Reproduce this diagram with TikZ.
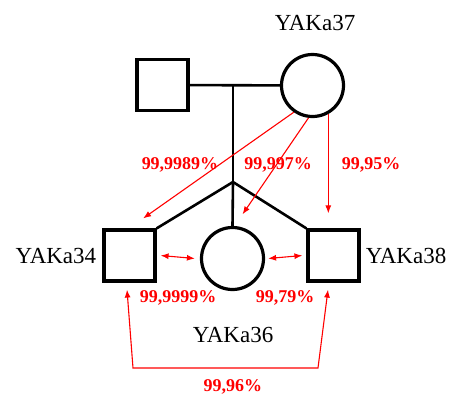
\documentclass[tikz,border=0pt]{standalone}
\usepackage{fontspec}
\setmainfont{Liberation Serif}
\usetikzlibrary{arrows.meta, positioning}
\definecolor{relRed}{RGB}{255,0,0}

\begin{document}
\begin{tikzpicture}[x=1pt, y=-1pt,
    male/.style={rectangle, draw, line width=3.2pt, minimum size=51pt, inner sep=0pt},
    female/.style={circle, draw, line width=3.2pt, minimum size=62pt, inner sep=0pt},
    kin/.style={line width=2.6pt},
    idlabel/.style={inner sep=0pt, font=\fontsize{23}{26}\selectfont},
    rel/.style={draw=relRed, line width=1.1pt, -{Latex[length=8pt,width=6pt]}},
    pct/.style={inner sep=0pt, text=relRed, font=\fontsize{18}{20}\selectfont\bfseries}
]
\useasboundingbox (0,0) rectangle (451,394);

% parents
\node[male] (father) at (162.5,85) {};
\node[female] (mother) at (312.5,85.5) {};
\node[idlabel] (lblMother) at (315,23) {YAKa37};

% children
\node[male] (son34) at (129.5,255.5) {};
\node[female] (dau36) at (232.5,258.5) {};
\node[male] (son38) at (333.5,255.5) {};
\node[idlabel, left=6pt of son34] (lbl34) {YAKa34};
\node[idlabel, right=5pt of son38] (lbl38) {YAKa38};
\node[idlabel] (lbl36) at (233,335) {YAKa36};

% pedigree lines
\coordinate (mate) at (233,85.5);
\coordinate (fork) at (233,182);
\draw[kin] (father) -- (mother);
\draw[kin] (mate) -- (fork);
\draw[kin] (fork) -- (son34.north east);
\draw[kin] (fork) -- (dau36.north);
\draw[kin] (fork) -- (son38.north west);

% relatedness arrows
\coordinate (tip34) at ([xshift=-13.5pt, yshift=10pt]son34.north east);
\coordinate (tip36) at ([xshift=10pt, yshift=11.5pt]dau36.north);
\coordinate (tip38) at ([xshift=-5.5pt, yshift=15pt]son38.north);
\draw[rel] (mother.235) -- (tip34);
\draw[rel] (mother.263) -- (tip36);
\draw[rel] (mother.299) -- (mother.299 |- tip38);

\draw[rel, {Latex[length=8pt,width=6pt]}-{Latex[length=8pt,width=6pt]}] ([xshift=4pt]son34.east) -- ([xshift=-5pt]dau36.west);
\draw[rel, {Latex[length=8pt,width=6pt]}-{Latex[length=8pt,width=6pt]}] ([xshift=3pt]dau36.east) -- ([xshift=-4pt]son38.west);

\coordinate (low34) at (133,368);
\coordinate (low38) at (318,368);
\draw[rel, {Latex[length=8pt,width=6pt]}-{Latex[length=8pt,width=6pt]}] ([xshift=-2.5pt, yshift=-7pt]son34.south) -- (low34) -- (low38) -- ([xshift=-5.5pt, yshift=-7pt]son38.south);

% percentages
\node[pct] (p34) at (180,165) {99,9989\%};
\node[pct] (p36) at (278,165) {99,997\%};
\node[pct] (p38) at (371,165) {99,95\%};
\node[pct] (pL) at (178,298) {99,9999\%};
\node[pct] (pR) at (285,298) {99,79\%};
\node[pct] (pB) at (233,387) {99,96\%};
\end{tikzpicture}
\end{document}
